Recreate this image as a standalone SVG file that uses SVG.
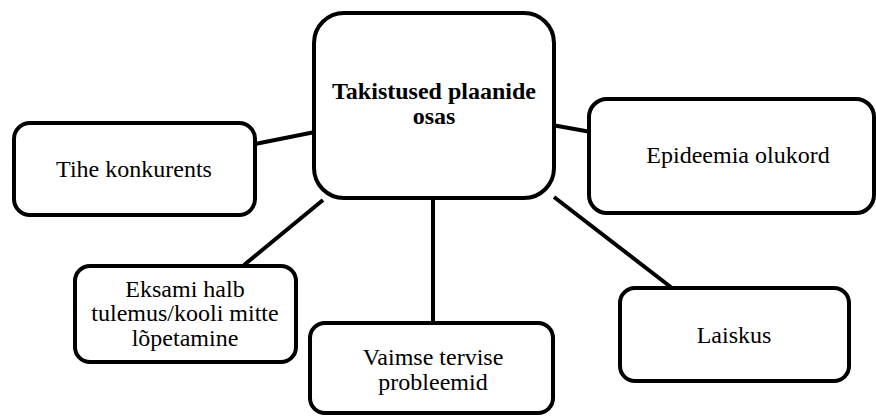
<svg xmlns="http://www.w3.org/2000/svg" width="876" height="416" viewBox="0 0 876 416">
<style>
.box{fill:#fff;stroke:#000;stroke-width:4}
.t{font-family:'Liberation Serif','Times New Roman',serif;font-size:24px;fill:#000;text-anchor:middle}
.b{font-weight:bold}
.c{stroke:#000;stroke-width:4;fill:none}
</style>
<rect width="876" height="416" fill="#fff"/>
<g id="connectors">
<line class="c" x1="255" y1="144" x2="315" y2="132"/>
<line class="c" x1="552" y1="125" x2="591" y2="132"/>
<line class="c" x1="323" y1="200" x2="244" y2="265"/>
<line class="c" x1="433" y1="198" x2="433" y2="323"/>
<line class="c" x1="554" y1="197" x2="672" y2="288"/>
</g>
<g id="center">
<rect class="box" x="314" y="13" width="240" height="185" rx="30"/>
<text class="t b" x="434" y="99">Takistused plaanide</text>
<text class="t b" x="434" y="124">osas</text>
</g>
<g id="tihe">
<rect class="box" x="14" y="123" width="241" height="92" rx="16"/>
<text class="t" x="134" y="177">Tihe konkurents</text>
</g>
<g id="epideemia">
<rect class="box" x="589" y="99" width="285" height="114" rx="18"/>
<text class="t" x="738" y="163">Epideemia olukord</text>
</g>
<g id="eksami">
<rect class="box" x="75" y="266" width="221" height="96" rx="15"/>
<text class="t" x="185" y="297">Eksami halb</text>
<text class="t" x="185" y="321">tulemus/kooli mitte</text>
<text class="t" x="185" y="346">lõpetamine</text>
</g>
<g id="vaimse">
<rect class="box" x="310" y="323" width="243" height="90" rx="15"/>
<text class="t" x="433" y="365">Vaimse tervise</text>
<text class="t" x="433" y="390">probleemid</text>
</g>
<g id="laiskus">
<rect class="box" x="620" y="288" width="229" height="93" rx="15"/>
<text class="t" x="734" y="343">Laiskus</text>
</g>
</svg>
